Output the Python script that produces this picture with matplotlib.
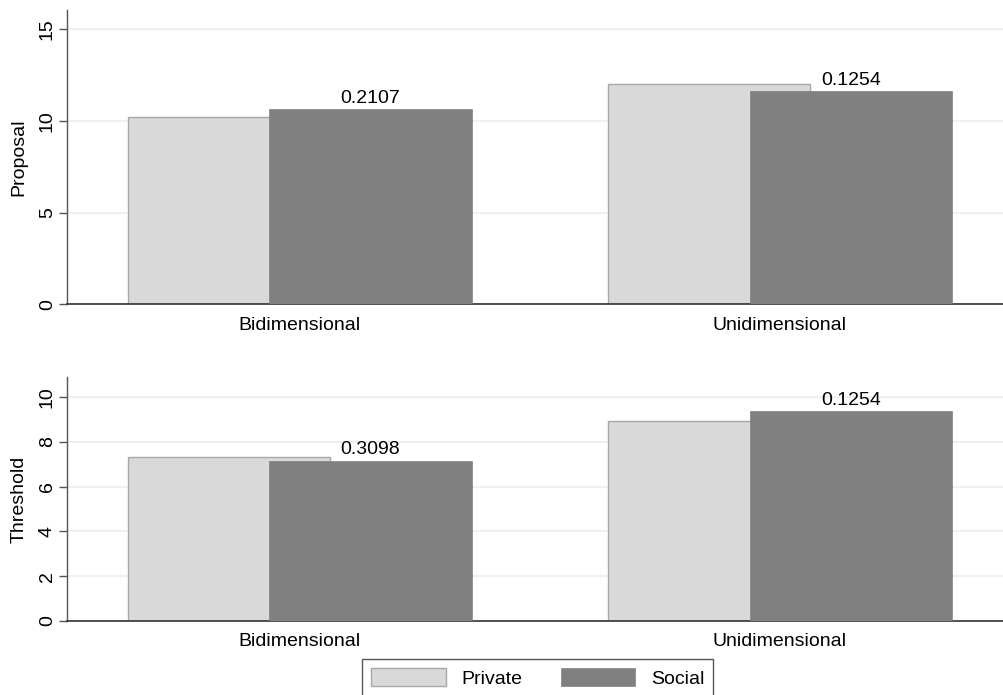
import matplotlib
matplotlib.use("Agg")
import matplotlib.pyplot as plt
from matplotlib.patches import Patch
import numpy as np

plt.rcParams['font.family'] = ['Liberation Sans', 'DejaVu Sans']

# data
categories = ["Bidimensional", "Unidimensional"]
series_names = ["Private", "Social"]
proposal_private = [10.22, 11.98]
proposal_social = [10.64, 11.60]
threshold_private = [7.34, 8.95]
threshold_social = [7.17, 9.37]
proposal_pvalues = ["0.2107", "0.1254"]
threshold_pvalues = ["0.3098", "0.1254"]
proposal_ticks = [0, 5, 10, 15]
threshold_ticks = [0, 2, 4, 6, 8, 10]

PRIVATE_COLOR = "#d9d9d9"
SOCIAL_COLOR = "#808080"
EDGE_COLOR = "#a8a8a8"
GRID_COLOR = "#eaf2f3"
FS = 14

W, H = 1004, 695
fig = plt.figure(figsize=(W / 100, H / 100), dpi=100)
fig.patch.set_facecolor("white")


def px_axes(left, top, right, bottom):
    return fig.add_axes([left / W, 1 - bottom / H, (right - left) / W, (bottom - top) / H])


ax_top = px_axes(67, 10, 1004, 304.3)
ax_bot = px_axes(67, 377.3, 1004, 621)

x = np.arange(len(categories))
bar_w = 0.4214
offset = 0.1474


def draw_panel(ax, private, social, pvals, ylabel, ticks, ymax):
    ax.bar(x - offset, private, width=bar_w, color=PRIVATE_COLOR,
           edgecolor=EDGE_COLOR, linewidth=1.0, zorder=2)
    bars = ax.bar(x + offset, social, width=bar_w, color=SOCIAL_COLOR,
                  edgecolor=SOCIAL_COLOR, linewidth=0.5, zorder=3)
    for b, txt in zip(bars, pvals):
        ax.annotate(txt, (b.get_x() + b.get_width() / 2, b.get_height()),
                    xytext=(0, 1.5), textcoords="offset points",
                    ha="center", va="bottom", fontsize=FS, color="black")
    ax.set_xlim(-0.4845, 1.4664)
    ax.set_ylim(0, ymax)
    ax.set_yticks(ticks)
    ax.set_yticklabels([str(t) for t in ticks], rotation=90, va="center")
    ax.set_xticks(x)
    ax.set_xticklabels(categories)
    ax.tick_params(axis="x", length=0, pad=9, labelsize=FS)
    ax.tick_params(axis="y", length=6, width=1, color="#555555", pad=2, labelsize=FS)
    ax.set_ylabel(ylabel, fontsize=FS, labelpad=8)
    ax.yaxis.grid(True, color=GRID_COLOR, linewidth=1.5, zorder=0)
    ax.set_axisbelow(True)
    for s in ("top", "right"):
        ax.spines[s].set_visible(False)
    ax.spines["left"].set_color("#555555")
    ax.spines["left"].set_linewidth(1.0)
    ax.spines["bottom"].set_color("#333333")
    ax.spines["bottom"].set_linewidth(1.2)


draw_panel(ax_top, proposal_private, proposal_social, proposal_pvalues,
           "Proposal", proposal_ticks, 16.04)
draw_panel(ax_bot, threshold_private, threshold_social, threshold_pvalues,
           "Threshold", threshold_ticks, 10.89)

handles = [Patch(facecolor=PRIVATE_COLOR, edgecolor=EDGE_COLOR, linewidth=1.0),
           Patch(facecolor=SOCIAL_COLOR, edgecolor=SOCIAL_COLOR, linewidth=0.5)]
leg = fig.legend(handles, series_names, loc="upper left",
                 bbox_to_anchor=(362.3 / W, 1 - 659.3 / H), ncol=2,
                 fontsize=FS, frameon=True, fancybox=False, shadow=False,
                 framealpha=1, edgecolor="#555555", handlelength=3.83,
                 handleheight=1.03, handletextpad=0.80, columnspacing=2.0,
                 borderpad=0.45, borderaxespad=0)
leg.get_frame().set_linewidth(1.0)

fig.savefig("out.png", dpi=100)
